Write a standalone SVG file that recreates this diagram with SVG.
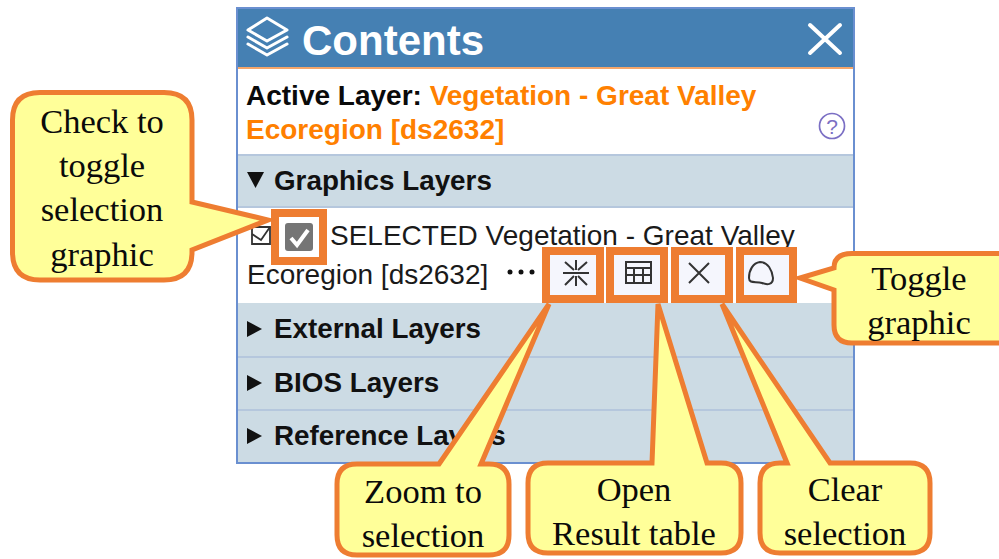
<svg xmlns="http://www.w3.org/2000/svg" width="999" height="559" viewBox="0 0 999 559">
<style>
.s{font-family:"Liberation Sans",Arial,sans-serif}
.b{font-weight:700;font-size:28px;fill:#0a0a0a}
.o{fill:#ff8000}
.n{font-size:28px;fill:#1a1a1a}
.h{font-weight:700;font-size:27.800px;fill:#111}
.band{fill:#ccdbe4}
.sep{stroke:#b5c7dd;stroke-width:2}
.hl{fill:#f5f6fd;stroke:#ee7d31;stroke-width:8}
.ic{fill:none;stroke:#333;stroke-width:2}
.co{fill:#ffff99;stroke:#ee7d31;stroke-width:5}
.ct{font-family:"Liberation Serif","Times New Roman",serif;font-size:34.500px;fill:#0a0a0a;text-anchor:middle}
.tri{fill:#111}
</style>
<rect width="999" height="559" fill="#fff"/>
<g id="panel">
<rect x="237" y="8" width="617" height="455" fill="#fff" stroke="#6a8fd0" stroke-width="2"/>
<rect x="238" y="9" width="615" height="58" fill="#4580b3"/>
<rect x="238" y="67" width="615" height="2" fill="#f5a66a"/>
<g fill="none" stroke="#fff" stroke-width="3" stroke-linejoin="round" stroke-linecap="round">
<path d="M267 18L287 30L267 41L248 30Z"/>
<path d="M248 37L267 48L287 37"/>
<path d="M248 44L267 55L287 44"/>
</g>
<text x="302" y="55" class="s" font-size="42" font-weight="700" fill="#fff">Contents</text>
<path d="M810 25L840 53M840 25L810 53" stroke="#fff" stroke-width="4" stroke-linecap="round"/>
<text x="246" y="105" class="s b">Active Layer: <tspan class="o">Vegetation - Great Valley</tspan></text>
<text x="246" y="139" class="s b o">Ecoregion [ds2632]</text>
<circle cx="832" cy="126" r="12.500" fill="none" stroke="#7b6fc4" stroke-width="1.700"/>
<text x="832" y="134" class="s" font-size="21" fill="#7b6fc4" text-anchor="middle">?</text>
<rect class="band" x="238" y="155" width="615" height="52"/>
<rect class="band" x="238" y="303" width="615" height="159"/>
<path class="sep" d="M238 155H853M238 207H853M238 357H853M238 410H853"/>
<path class="tri" d="M247 172H264L255.500 188Z"/>
<text x="274" y="190" class="s h">Graphics Layers</text>
<path class="tri" d="M247 321L262 329L247 337Z"/>
<text x="274" y="338" class="s h">External Layers</text>
<path class="tri" d="M247 375L262 383L247 391Z"/>
<text x="274" y="392" class="s h">BIOS Layers</text>
<path class="tri" d="M247 428L262 436L247 444Z"/>
<text x="274" y="445" class="s h">Reference Layers</text>
<path d="M252 227H270V244H252Z" fill="none" stroke="#333" stroke-width="1.800"/>
<path d="M252 234L261 240L270 227" fill="none" stroke="#333" stroke-width="1.800"/>
<text x="330" y="245" class="s n">SELECTED Vegetation - Great Valley</text>
<text x="247" y="284" class="s n">Ecoregion [ds2632]</text>
<g fill="#111"><circle cx="510" cy="272" r="2.500"/><circle cx="521" cy="272" r="2.500"/><circle cx="532" cy="272" r="2.500"/></g>
</g>
<g id="check-highlight">
<rect class="hl" x="275" y="213" width="48" height="48" style="fill:#fff"/>
<rect x="285" y="223" width="28" height="28" rx="3" fill="#757575"/>
<path d="M291 238L297 245L308 230" fill="none" stroke="#fff" stroke-width="4"/>
</g>
<g id="zoom-button">
<rect class="hl" x="546" y="251" width="54" height="48"/>
<path class="ic" d="M576 260V270M576 276V286M563 273H589M565 262L574 270M587 262L578 270M565 285L574 276M587 285L578 276"/>
</g>
<g id="table-button">
<rect class="hl" x="610" y="251" width="54" height="48"/>
<path class="ic" d="M626 262H651V283H626ZM626 268H651M626 275H651M634 268V283M643 268V283"/>
</g>
<g id="clear-button">
<rect class="hl" x="675" y="251" width="54" height="48"/>
<path class="ic" d="M689 263L709 283M709 263L689 283"/>
</g>
<g id="graphic-button">
<rect class="hl" x="740" y="251" width="53" height="48"/>
<path class="ic" d="M749 278C749 270 753 263 760 262C768 262 772 270 773 278C773 285 767 285 762 283C756 281 749 284 749 278Z"/>
</g>
<g id="callout-check">
<path class="co" d="M40 92.500H164Q192 92.500 192 120V202L268 220L192 250V252Q192 280 164 280H40Q12.500 280 12.500 252V120Q12.500 92.500 40 92.500Z"/>
<text class="ct" x="102" y="133">Check to</text>
<text class="ct" x="102" y="177">toggle</text>
<text class="ct" x="102" y="221">selection</text>
<text class="ct" x="102" y="266">graphic</text>
</g>
<g id="callout-toggle">
<path class="co" d="M852 253.500H1002V343H852Q834 343 834 325V290L800 278L834 268Q834 253.500 852 253.500Z"/>
<text class="ct" x="919" y="290">Toggle</text>
<text class="ct" x="919" y="334">graphic</text>
</g>
<g id="callout-zoom">
<path class="co" d="M439 464L549 304L481 464H489Q509 464 509 484V535Q509 555 489 555H357Q337 555 337 535V484Q337 464 357 464Z"/>
<text class="ct" x="423" y="503">Zoom to</text>
<text class="ct" x="423" y="547">selection</text>
</g>
<g id="callout-table">
<path class="co" d="M652 463L658 304L707 463H721Q741 463 741 483V533Q741 553 721 553H548Q528 553 528 533V483Q528 463 548 463Z"/>
<text class="ct" x="634" y="501">Open</text>
<text class="ct" x="634" y="545">Result table</text>
</g>
<g id="callout-clear">
<path class="co" d="M787 463L722 304L830 463H910Q930 463 930 483V533Q930 553 910 553H780Q760 553 760 533V483Q760 463 780 463Z"/>
<text class="ct" x="845" y="501">Clear</text>
<text class="ct" x="845" y="545">selection</text>
</g>
</svg>
